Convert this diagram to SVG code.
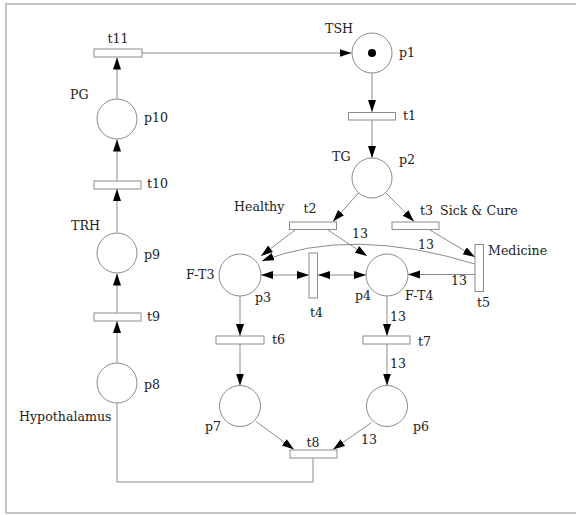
<svg xmlns="http://www.w3.org/2000/svg" width="576" height="515" viewBox="0 0 576 515">
<style>
.frame{fill:none;stroke:#c4c4c4;stroke-width:2}
.pl{fill:#fff;stroke:#8c8c8c;stroke-width:1}
.tr{fill:#fff;stroke:#8c8c8c;stroke-width:1}
.arc{fill:none;stroke:#8c8c8c;stroke-width:1}
text{font-family:"DejaVu Serif","Liberation Serif",serif;font-size:12.6px;fill:#222}
</style>
<defs>
<marker id="ah" markerUnits="userSpaceOnUse" markerWidth="13" markerHeight="9" refX="12" refY="4" orient="auto">
<path d="M0,0 L12,4 L0,8 z" fill="#000"/>
</marker>
<marker id="as" markerUnits="userSpaceOnUse" markerWidth="13" markerHeight="9" refX="0" refY="4" orient="auto">
<path d="M12,0 L0,4 L12,8 z" fill="#000"/>
</marker>
</defs>
<rect class="frame" x="6" y="4" width="576" height="509"/>
<g id="connectors">
<line class="arc" x1="142" y1="53" x2="351.5" y2="53" marker-end="url(#ah)"/>
<line class="arc" x1="372" y1="73" x2="372" y2="112" marker-end="url(#ah)"/>
<line class="arc" x1="372" y1="120" x2="372" y2="158" marker-end="url(#ah)"/>
<line class="arc" x1="358.5" y1="193" x2="333" y2="221.5" marker-end="url(#ah)"/>
<line class="arc" x1="386" y1="193" x2="414" y2="221.5" marker-end="url(#ah)"/>
<line class="arc" x1="295" y1="230" x2="261" y2="256" marker-end="url(#ah)"/>
<line class="arc" x1="328" y1="230" x2="367" y2="256" marker-end="url(#ah)"/>
<line class="arc" x1="430" y1="230" x2="475" y2="257" marker-end="url(#ah)"/>
<path class="arc" d="M475,264 Q351,226 262,261" marker-end="url(#ah)"/>
<line class="arc" x1="475" y1="274.5" x2="408" y2="274.5" marker-end="url(#ah)"/>
<line class="arc" x1="261" y1="275" x2="309" y2="275" marker-start="url(#as)" marker-end="url(#ah)"/>
<line class="arc" x1="318" y1="275" x2="366" y2="275" marker-start="url(#as)" marker-end="url(#ah)"/>
<line class="arc" x1="240" y1="296" x2="240" y2="336" marker-end="url(#ah)"/>
<line class="arc" x1="240" y1="344" x2="240" y2="385.5" marker-end="url(#ah)"/>
<line class="arc" x1="387" y1="296" x2="387" y2="336" marker-end="url(#ah)"/>
<line class="arc" x1="387" y1="344" x2="387" y2="385.5" marker-end="url(#ah)"/>
<line class="arc" x1="256" y1="421.5" x2="294" y2="449.5" marker-end="url(#ah)"/>
<line class="arc" x1="371.5" y1="422.5" x2="333" y2="449.5" marker-end="url(#ah)"/>
<polyline class="arc" points="117,403 117,482 313,482 313,458.5"/>
<line class="arc" x1="117" y1="362.5" x2="117" y2="321" marker-end="url(#ah)"/>
<line class="arc" x1="117" y1="313" x2="117" y2="273.5" marker-end="url(#ah)"/>
<line class="arc" x1="117" y1="232.5" x2="117" y2="189" marker-end="url(#ah)"/>
<line class="arc" x1="117" y1="181" x2="117" y2="139.5" marker-end="url(#ah)"/>
<line class="arc" x1="117" y1="98.5" x2="117" y2="57.5" marker-end="url(#ah)"/>
<text x="352" y="238">13</text>
<text x="418" y="249">13</text>
<text x="451" y="285">13</text>
<text x="390" y="321">13</text>
<text x="390" y="368">13</text>
<text x="361" y="444">13</text>
</g>
<g id="p1"><circle class="pl" cx="372" cy="53" r="20"/><circle cx="372" cy="53" r="4" fill="#000"/><text x="325" y="33">TSH</text><text x="399" y="57">p1</text></g>
<g id="t1"><rect class="tr" x="348.5" y="112.5" width="47" height="7.5"/><text x="403" y="120">t1</text></g>
<g id="p2"><circle class="pl" cx="372" cy="178" r="20"/><text x="332" y="160.5">TG</text><text x="399" y="164">p2</text></g>
<g id="t2"><rect class="tr" x="289.5" y="222" width="47" height="7.5"/><text x="310" y="213" text-anchor="middle">t2</text><text x="234" y="211">Healthy</text></g>
<g id="t3"><rect class="tr" x="392" y="222" width="47" height="7.5"/><text x="420" y="215">t3</text><text x="440" y="215">Sick &amp; Cure</text></g>
<g id="t5"><rect class="tr" x="475" y="244.5" width="8.5" height="47"/><text x="488" y="255">Medicine</text><text x="477" y="307">t5</text></g>
<g id="p3"><circle class="pl" cx="240" cy="275" r="21"/><text x="186" y="279">F-T3</text><text x="255" y="302">p3</text></g>
<g id="t4"><rect class="tr" x="309" y="253" width="8.5" height="45"/><text x="310" y="317">t4</text></g>
<g id="p4"><circle class="pl" cx="387" cy="275" r="21"/><text x="355" y="300">p4</text><text x="405" y="300">F-T4</text></g>
<g id="t6"><rect class="tr" x="216" y="336" width="48" height="8"/><text x="272" y="344">t6</text></g>
<g id="t7"><rect class="tr" x="363" y="336" width="47" height="8"/><text x="418" y="346">t7</text></g>
<g id="p7"><circle class="pl" cx="240" cy="406" r="20.5"/><text x="205" y="431">p7</text></g>
<g id="p6"><circle class="pl" cx="387" cy="406" r="20.5"/><text x="413" y="431">p6</text></g>
<g id="t8"><rect class="tr" x="290" y="450" width="47" height="8"/><text x="313" y="447" text-anchor="middle">t8</text></g>
<g id="p8"><circle class="pl" cx="117" cy="383" r="20"/><text x="144" y="389">p8</text><text x="19" y="421">Hypothalamus</text></g>
<g id="t9"><rect class="tr" x="94" y="313" width="47" height="8"/><text x="147" y="321">t9</text></g>
<g id="p9"><circle class="pl" cx="117" cy="253" r="20"/><text x="71" y="230">TRH</text><text x="144" y="259">p9</text></g>
<g id="t10"><rect class="tr" x="94" y="181" width="47" height="8"/><text x="147" y="188">t10</text></g>
<g id="p10"><circle class="pl" cx="117" cy="119" r="20"/><text x="70" y="99">PG</text><text x="144" y="122">p10</text></g>
<g id="t11"><rect class="tr" x="94" y="49" width="48" height="8"/><text x="118" y="43" text-anchor="middle">t11</text></g>
</svg>
